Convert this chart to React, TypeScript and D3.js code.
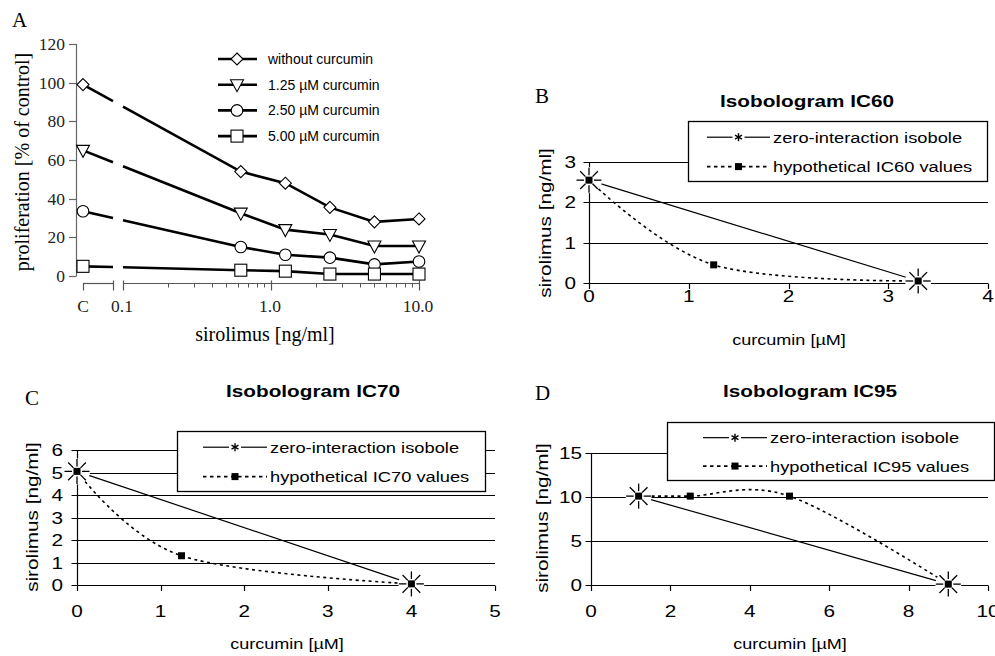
import React from 'react';
import * as d3 from 'd3';

// panel A: proliferation vs sirolimus dose
const doses = [0.625, 1.25, 2.5, 5, 10];
const seriesNames = ['without curcumin', '1.25 µM curcumin', '2.50 µM curcumin', '5.00 µM curcumin'];
const seriesSymbols = ['diamond', 'triangle', 'circle', 'square'];
const controlValues = [99, 65, 33.5, 5];
const prolifWithout = [54, 48, 35.5, 28, 29.5];
const prolif125 = [32.5, 24, 21.5, 15.5, 15.5];
const prolif250 = [15, 11, 9.5, 6, 7.5];
const prolif500 = [3, 2.5, 1, 1, 1];
const prolifSeries = [prolifWithout, prolif125, prolif250, prolif500];
const yTicksA = [0, 20, 40, 60, 80, 100, 120];
const xMajorA = [0.1, 1, 10];
const xMajorLabelsA = ['0.1', '1.0', '10.0'];

// isobolograms
const ic60Curcumin = [0, 1.25, 3.3];
const ic60Sirolimus = [2.55, 0.45, 0.05];
const ic70Curcumin = [0, 1.25, 4];
const ic70Sirolimus = [5.05, 1.3, 0.05];
const ic95Curcumin = [1.2, 2.5, 5, 9];
const ic95Sirolimus = [10.1, 10.1, 10.1, 0.1];

const SANS = 'Liberation Sans, Arial, sans-serif';
const SERIF = 'Liberation Serif, Times New Roman, serif';
const SX = 1.22;
const crisp = (v: number) => Math.round(v) + 0.5;

function ST(props: any) {
  const { x, y, rotate = 0, size, weight = 'normal', anchor = 'start', dy, children } = props;
  return (
    <text transform={`translate(${x},${y}) rotate(${rotate}) scale(${SX},1)`} textAnchor={anchor}
      fontFamily={SANS} fontSize={size} fontWeight={weight} dy={dy} fill="#000">{children}</text>
  );
}

function Marker({ type, x, y }: any) {
  const st = { fill: '#fff', stroke: '#000', strokeWidth: 1.1 };
  if (type === 'diamond') return <path d={`M${x},${y - 6}L${x + 6},${y}L${x},${y + 6}L${x - 6},${y}Z`} {...st} />;
  if (type === 'triangle') return <path d={`M${x - 6.5},${y - 5}L${x + 6.5},${y - 5}L${x},${y + 7}Z`} {...st} />;
  if (type === 'circle') return <circle cx={x} cy={y} r={5.8} {...st} />;
  return <rect x={x - 6} y={y - 6} width={12} height={12} {...st} />;
}

function PanelA() {
  const y = d3.scaleLinear().domain([0, 120]).range([276, 44]);
  const x = d3.scaleLog().domain([0.1, 10]).range([123, 419]);
  const xC = 83, xBreak = 113, axisY = 283.5;
  const minor = d3.range(2, 10).map(d => d / 10).concat(d3.range(2, 10));
  const line = d3.line<number[]>().x(d => d[0]).y(d => d[1]);
  return (
    <g>
      <text x={12} y={27} fontFamily={SERIF} fontSize={21}>A</text>
      {/* y axis */}
      <line x1={76.5} x2={76.5} y1={y(120)} y2={y(0)} stroke="#666" strokeWidth={1.2} />
      {yTicksA.map(t => (
        <g key={t}>
          <line x1={69} x2={76.5} y1={crisp(y(t))} y2={crisp(y(t))} stroke="#666" strokeWidth={1.2} />
          <text x={65} y={y(t)} dy="0.34em" textAnchor="end" fontFamily={SERIF} fontSize={17.5} fill="#222">{t}</text>
        </g>
      ))}
      {/* x axis with break */}
      <line x1={xC} x2={xBreak} y1={axisY} y2={axisY} stroke="#555" strokeWidth={1.2} />
      <line x1={xC + 0.5} x2={xC + 0.5} y1={axisY} y2={axisY + 7} stroke="#555" strokeWidth={1.2} />
      <line x1={xBreak + 0.5} x2={xBreak + 0.5} y1={axisY - 3} y2={axisY + 7} stroke="#555" strokeWidth={1.2} />
      <line x1={x(0.1)} x2={x(10)} y1={axisY} y2={axisY} stroke="#555" strokeWidth={1.2} />
      {xMajorA.map(t => <line key={t} x1={crisp(x(t))} x2={crisp(x(t))} y1={axisY - 3} y2={axisY + 7} stroke="#555" strokeWidth={1.2} />)}
      {minor.map(t => <line key={t} x1={crisp(x(t))} x2={crisp(x(t))} y1={axisY} y2={axisY + 4} stroke="#555" strokeWidth={1} />)}
      <text x={xC} y={312} textAnchor="middle" fontFamily={SERIF} fontSize={17.5} fill="#222">C</text>
      {xMajorA.map((t, i) => (
        <text key={t} x={x(t) - 1} y={312} textAnchor="middle" fontFamily={SERIF} fontSize={17.5} fill="#222">{xMajorLabelsA[i]}</text>
      ))}
      <text x={265} y={341} textAnchor="middle" fontFamily={SERIF} fontSize={20}>sirolimus [ng/ml]</text>
      <text transform={`translate(29,162) rotate(-90)`} textAnchor="middle" fontFamily={SERIF} fontSize={20}>proliferation [% of control]</text>
      {/* series */}
      {prolifSeries.map((vals, i) => {
        const p0 = [xC, y(controlValues[i])];
        const p1 = [x(doses[0]), y(vals[0])];
        const at = (xx: number) => [xx, p0[1] + (p1[1] - p0[1]) * (xx - p0[0]) / (p1[0] - p0[0])];
        const rest = doses.map((d, j) => [x(d), y(vals[j])]);
        return (
          <g key={i}>
            <path d={line([p0, at(xBreak)]) || ''} fill="none" stroke="#000" strokeWidth={2.6} />
            <path d={line([at(x(0.1)), ...rest]) || ''} fill="none" stroke="#000" strokeWidth={2.6} />
            <Marker type={seriesSymbols[i]} x={p0[0]} y={p0[1]} />
            {rest.map((p, j) => <Marker key={j} type={seriesSymbols[i]} x={p[0]} y={p[1]} />)}
          </g>
        );
      })}
      {/* legend */}
      {seriesNames.map((n, i) => {
        const ly = 59 + i * 25.7;
        return (
          <g key={n}>
            <line x1={218} x2={257} y1={ly} y2={ly} stroke="#000" strokeWidth={2.6} />
            <Marker type={seriesSymbols[i]} x={237} y={ly} />
            <text x={268} y={ly + 5} fontFamily={SANS} fontSize={14}>{n}</text>
          </g>
        );
      })}
    </g>
  );
}

function Star({ x, y }: any) {
  return (
    <g>
      {d3.range(8).map(k => {
        const a = (k * Math.PI) / 4;
        return <line key={k} x1={x + 5 * Math.cos(a)} y1={y + 5 * Math.sin(a)} x2={x + 12.5 * Math.cos(a)} y2={y + 12.5 * Math.sin(a)} stroke="#000" strokeWidth={1.3} />;
      })}
    </g>
  );
}

function Iso(props: any) {
  const { letter, letterPos, title, titleX, titleY, cur, sir, xDom, yDom, xRange, yRange, xTicks, yTicks,
    yLabOff, xLabY, xLabelPos, yLabelPos, legendBox, legendLine, legendName } = props;
  const x = d3.scaleLinear().domain(xDom).range(xRange);
  const y = d3.scaleLinear().domain(yDom).range(yRange);
  const pts = cur.map((c: number, i: number) => [x(c), y(sir[i])]);
  const first = pts[0], last = pts[pts.length - 1];
  const curve = d3.line<number[]>().x(d => d[0]).y(d => d[1]).curve(d3.curveCardinal.tension(0));
  const [lx, ly, lw, lh] = legendBox;
  const r1 = ly + lh * 0.27, r2 = ly + lh * 0.76;
  const [s0, s1] = legendLine;
  const sm = (s0 + s1) / 2;
  const x0 = crisp(x(xDom[0]));
  return (
    <g>
      <text x={letterPos[0]} y={letterPos[1]} fontFamily={SERIF} fontSize={21}>{letter}</text>
      <ST x={titleX} y={titleY} size={17} weight="bold" anchor="middle">{title}</ST>
      {/* gridlines */}
      {y.ticks(yTicks).map(t => (
        <g key={t}>
          <line x1={x0 - 6} x2={x(xDom[1])} y1={crisp(y(t))} y2={crisp(y(t))} stroke="#000" strokeWidth={1.2} />
          <ST x={x(xDom[0]) - yLabOff} y={y(t)} dy="0.36em" size={17} anchor="end">{t}</ST>
        </g>
      ))}
      <line x1={x0} x2={x0} y1={crisp(y(yDom[1]))} y2={crisp(y(0))} stroke="#000" strokeWidth={1.2} />
      {x.ticks(xTicks).map(t => (
        <g key={t}>
          <line x1={crisp(x(t))} x2={crisp(x(t))} y1={crisp(y(0))} y2={y(0) + 6} stroke="#000" strokeWidth={1.2} />
          <ST x={x(t)} y={xLabY} size={17} anchor="middle">{t}</ST>
        </g>
      ))}
      {/* zero-interaction isobole */}
      <line x1={first[0]} y1={first[1]} x2={last[0]} y2={last[1]} stroke="#000" strokeWidth={1.2} />
      {/* hypothetical values */}
      <path d={curve(pts) || ''} fill="none" stroke="#000" strokeWidth={1.6} strokeDasharray="3,3.5" />
      {[first, last].map((p, i) => <circle key={i} cx={p[0]} cy={p[1]} r={13} fill="#fff" />)}
      {[first, last].map((p, i) => <Star key={i} x={p[0]} y={p[1]} />)}
      {pts.map((p: number[], i: number) => <rect key={i} x={p[0] - 3.5} y={p[1] - 3.5} width={7} height={7} fill="#000" />)}
      {/* axis labels */}
      <ST x={xLabelPos[0]} y={xLabelPos[1]} size={14.8} anchor="middle">curcumin [µM]</ST>
      <ST x={yLabelPos[0]} y={yLabelPos[1]} rotate={-90} size={17} anchor="middle">sirolimus [ng/ml]</ST>
      {/* legend */}
      <rect x={lx + 0.5} y={ly + 0.5} width={lw} height={lh} fill="#fff" stroke="#000" strokeWidth={1.3} />
      <line x1={s0} x2={sm - 6} y1={r1} y2={r1} stroke="#000" strokeWidth={1.2} />
      <line x1={sm + 6} x2={s1} y1={r1} y2={r1} stroke="#000" strokeWidth={1.2} />
      {d3.range(3).map(k => {
        const a = (k * Math.PI) / 3 + Math.PI / 6;
        return <line key={k} x1={sm - 4 * Math.cos(a)} y1={r1 - 4 * Math.sin(a)} x2={sm + 4 * Math.cos(a)} y2={r1 + 4 * Math.sin(a)} stroke="#000" strokeWidth={1.4} />;
      })}
      <line x1={s0} x2={s1} y1={r2} y2={r2} stroke="#000" strokeWidth={1.6} strokeDasharray="3.5,3.5" />
      <rect x={sm - 3.5} y={r2 - 3.5} width={7} height={7} fill="#000" />
      <ST x={s1 + 3} y={r1 + 5.5} size={15}>zero-interaction isobole</ST>
      <ST x={s1 + 3} y={r2 + 5.5} size={15}>{legendName}</ST>
    </g>
  );
}

export default function App() {
  return (
    <svg width={995} height={656} style={{ position: 'absolute', left: 0, top: 0, background: '#fff' }}>
      <rect width={995} height={656} fill="#fff" />
      <PanelA />
      <Iso letter="B" letterPos={[535, 103]} title="Isobologram IC60" titleX={807} titleY={107}
        cur={ic60Curcumin} sir={ic60Sirolimus} xDom={[0, 4]} yDom={[0, 3]} xRange={[589, 988]} yRange={[283, 162]}
        xTicks={5} yTicks={3} yLabOff={13} xLabY={302} xLabelPos={[789, 345]} yLabelPos={[551, 223]}
        legendBox={[688, 121, 299, 60]} legendLine={[707, 770]} legendName="hypothetical IC60 values" />
      <Iso letter="C" letterPos={[25, 405]} title="Isobologram IC70" titleX={313} titleY={397}
        cur={ic70Curcumin} sir={ic70Sirolimus} xDom={[0, 5]} yDom={[0, 6]} xRange={[77, 495]} yRange={[585, 450]}
        xTicks={5} yTicks={6} yLabOff={14} xLabY={617} xLabelPos={[287, 649]} yLabelPos={[38, 517]}
        legendBox={[177, 431, 308, 60]} legendLine={[203, 267]} legendName="hypothetical IC70 values" />
      <Iso letter="D" letterPos={[535, 400]} title="Isobologram IC95" titleX={810} titleY={397}
        cur={ic95Curcumin} sir={ic95Sirolimus} xDom={[0, 10]} yDom={[0, 15]} xRange={[591, 988]} yRange={[585, 453]}
        xTicks={5} yTicks={3} yLabOff={9} xLabY={617} xLabelPos={[790, 649]} yLabelPos={[548, 518]}
        legendBox={[667, 422, 327, 58]} legendLine={[703, 767]} legendName="hypothetical IC95 values" />
    </svg>
  );
}
